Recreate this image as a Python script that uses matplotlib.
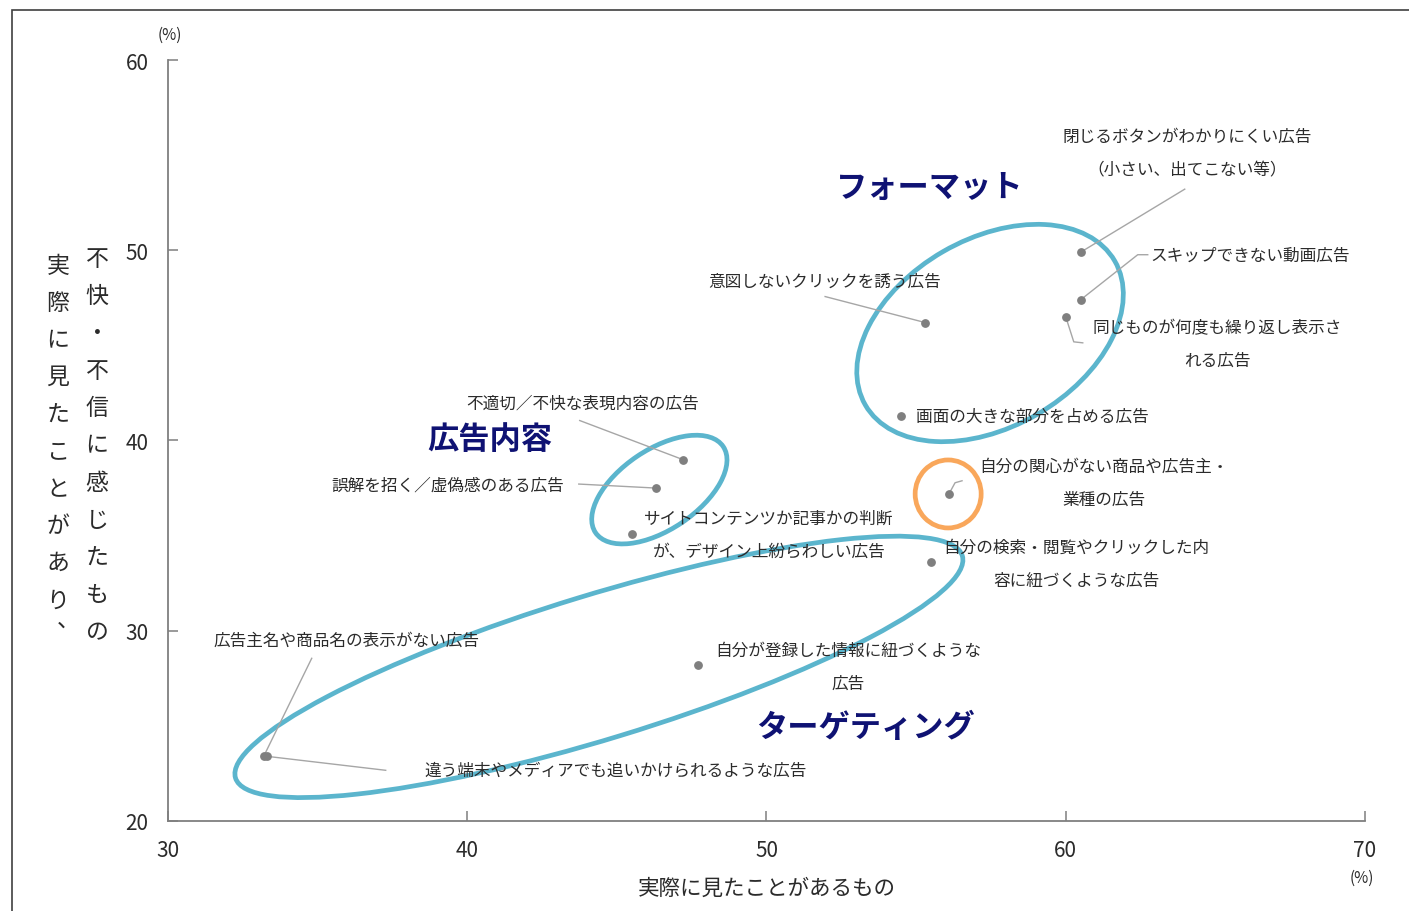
import matplotlib
matplotlib.use("Agg")
import matplotlib.pyplot as plt
from matplotlib.patches import Ellipse, Rectangle
from matplotlib.lines import Line2D
from matplotlib.transforms import ScaledTranslation

plt.rcParams['font.family'] = ['Noto Sans CJK JP', 'DejaVu Sans']

# ad types: x = seen it, y = seen it and felt uncomfortable (%)
names = [
    "閉じるボタンがわかりにくい広告\n（小さい、出てこない等）",
    "スキップできない動画広告",
    "同じものが何度も繰り返し表示さ\nれる広告",
    "意図しないクリックを誘う広告",
    "画面の大きな部分を占める広告",
    "自分の関心がない商品や広告主・\n業種の広告",
    "自分の検索・閲覧やクリックした内\n容に紐づくような広告",
    "自分が登録した情報に紐づくような\n広告",
    "不適切／不快な表現内容の広告",
    "誤解を招く／虚偽感のある広告",
    "サイトコンテンツか記事かの判断\nが、デザイン上紛らわしい広告",
    "広告主名や商品名の表示がない広告",
    "違う端末やメディアでも追いかけられるような広告",
]
seen = [60.5, 60.5, 60.0, 55.3, 54.5, 56.1, 55.5, 47.7, 47.2, 46.3, 45.5, 33.2, 33.3]
uncomfortable = [49.9, 47.4, 46.5, 46.2, 41.3, 37.2, 33.6, 28.2, 39.0, 37.5, 35.1, 23.4, 23.4]

x_ticks = [30, 40, 50, 60, 70]
y_ticks = [20, 30, 40, 50, 60]

groups = ["フォーマット", "広告内容", "ターゲティング"]

# label placement (data coords, ha) and leader polylines in pixels from the dot
label_pos = [
    (64.05, 55.11, 'center'), (62.82, 49.75, 'left'), (65.05, 45.07, 'center'),
    (51.95, 48.38, 'center'), (55.0, 41.29, 'left'), (61.28, 37.79, 'center'),
    (60.34, 33.51, 'center'), (52.72, 28.1, 'center'), (43.87, 41.97, 'center'),
    (39.36, 37.66, 'center'), (50.08, 35.03, 'center'), (35.95, 29.51, 'center'),
    (44.97, 22.68, 'center'),
]
leaders = [
    [(0, 0), (104, -63)],
    [(0, 0), (57, -45), (67, -45)],
    [(0, 0), (8, 25), (17, 26)],
    [(0, 0), (-100, -26)],
    None,
    [(0, 0), (6, -11), (13, -13)],
    None, None,
    [(0, 0), (-103, -39)],
    [(0, 0), (-77, -4)],
    None,
    [(0, 0), (48, -98)],
    [(0, 0), (119, 14)],
]
group_pos = [(55.46, 53.32), (40.76, 40.08), (53.32, 24.94)]
# ellipses: centre (data), width/height px, angle
rings = [
    ((57.47, 45.65), 288, 188, 30, '#5bb5cd'),
    ((46.42, 37.42), 154, 80, 34, '#5bb5cd'),
    ((44.40, 28.10), 760, 144, 17, '#5bb5cd'),
    ((56.07, 37.19), 66, 68, 0, '#f9a75b'),
]

txt_col = '#2b2b2b'

fig = plt.figure(figsize=(14.09, 9.12), dpi=100)
ax = fig.add_axes([0.1192, 0.0987, 0.8496, 0.8344])
ax.set_xlim(30, 70)
ax.set_ylim(20, 60)

fig.patches.append(Rectangle((12 / 1409, -0.1), 1.2, 1.1 - 11 / 912,
                             transform=fig.transFigure, fill=False,
                             edgecolor='#404040', lw=1.2))

for s in ['top', 'right']:
    ax.spines[s].set_visible(False)
for s in ['left', 'bottom']:
    ax.spines[s].set_color('#7f7f7f')
    ax.spines[s].set_linewidth(1.3)
ax.set_xticks(x_ticks)
ax.set_yticks(y_ticks)
ax.tick_params(axis='both', direction='in', length=7, width=1.1, color='#7f7f7f',
               labelsize=15, labelcolor=txt_col)
ax.tick_params(axis='x', pad=13)
ax.tick_params(axis='y', pad=14)

for (c, w, h, ang, col) in rings:
    tr = fig.dpi_scale_trans + ScaledTranslation(c[0], c[1], ax.transData)
    ax.add_patch(Ellipse((0, 0), w / 100, h / 100, angle=ang, transform=tr,
                         fill=False, edgecolor=col, lw=3.4, zorder=2))

ax.scatter(seen, uncomfortable, s=28, color='#7f7f7f', zorder=4)

for i in range(len(names)):
    if leaders[i]:
        tr = fig.dpi_scale_trans + ScaledTranslation(seen[i], uncomfortable[i], ax.transData)
        xs = [p[0] / 100 for p in leaders[i]]
        ys = [-p[1] / 100 for p in leaders[i]]
        ax.add_line(Line2D(xs, ys, transform=tr, color='#a6a6a6', lw=1.0, zorder=3))
    lx, ly, ha = label_pos[i]
    ax.text(lx, ly, names[i], ha=ha, va='center', fontsize=12, color=txt_col,
            linespacing=2.25, zorder=5)

for g, (gx, gy) in zip(groups, group_pos):
    ax.text(gx, gy, g, ha='center', va='center', fontsize=22.5, fontweight='bold',
            color='#0f1273', zorder=5)

fig.text(170 / 1409, 1 - 35 / 912, "(%)", ha='center', va='center', fontsize=11,
         color=txt_col)
fig.text(1362 / 1409, 1 - 878 / 912, "(%)", ha='center', va='center', fontsize=11,
         color=txt_col)
fig.text(767 / 1409, 1 - 889 / 912, "実際に見たことがあるもの", ha='center', va='center',
         fontsize=15.5, color=txt_col)

# vertical y-axis title, two columns
col1 = "不快・不信に感じたもの"
col2 = "実際に見たことがあり"
for k, ch in enumerate(col1):
    fig.text(97 / 1409, 1 - (259 + 37.4 * k) / 912, ch, ha='center', va='center',
             fontsize=16.5, color=txt_col)
for k, ch in enumerate(col2):
    fig.text(58 / 1409, 1 - (266 + 37.2 * k) / 912, ch, ha='center', va='center',
             fontsize=16.5, color=txt_col)
# vertical comma sits at the upper right of its cell
fig.text(68 / 1409, 1 - 620 / 912, "、", ha='center', va='center',
         fontsize=16.5, color=txt_col)

fig.savefig("out.png", dpi=100)
